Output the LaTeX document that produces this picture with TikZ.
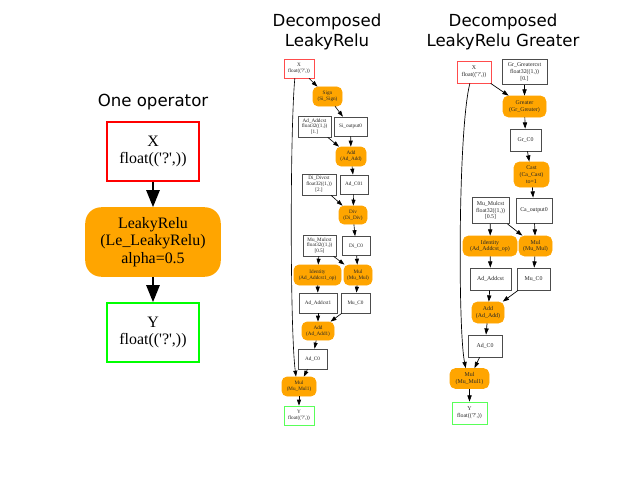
\documentclass[tikz,border=0pt]{standalone}
\usepackage{fontspec}
\setmainfont{Liberation Serif}
\newfontfamily\titlefont{DejaVu Sans}
\usetikzlibrary{arrows.meta}
\definecolor{gvorange}{HTML}{FFA500}
\definecolor{gvred}{HTML}{FF0000}
\definecolor{gvgreen}{HTML}{00FF00}
\newcommand\sq{\textquotesingle}
\newcommand\fq{float((\sq?\sq,))}
\tikzset{
  wh/.style 2 args={minimum width=#1*0.7227pt, minimum height=#2*0.7227pt},
  ttl/.style={font=\titlefont\fontsize{12}{14.45}\selectfont, align=center, inner sep=0pt},
  lnode/.style={inner sep=0pt, align=center, font=\fontsize{11.5}{12.5}\selectfont, line width=1.1pt},
  mnode/.style={inner sep=0pt, align=center, font=\fontsize{3.75}{4.3}\selectfont, line width=0.5pt, text=black!85},
  rnode/.style={inner sep=0pt, align=center, font=\fontsize{4.25}{4.9}\selectfont, line width=0.55pt, text=black!85},
  tbox/.style={draw=black},
  inbox/.style={draw=gvred},
  outbox/.style={draw=gvgreen},
  stbox/.style={draw=black!70},
  sinbox/.style={draw=gvred!70},
  soutbox/.style={draw=gvgreen!65},
  lop/.style={fill=gvorange, draw=gvorange, rounded corners=11pt},
  mop/.style={fill=gvorange, draw=gvorange, rounded corners=3.6pt},
  rop/.style={fill=gvorange, draw=gvorange, rounded corners=4pt},
  larr/.style={-{Triangle[length=12.3pt,width=9.4pt]}, line width=1.8pt},
  marr/.style={-{Triangle[length=4.3pt,width=2.9pt]}, line width=0.45pt},
  rarr/.style={-{Triangle[length=4.5pt,width=3.1pt]}, line width=0.5pt},
}
\begin{document}
\begin{tikzpicture}[x=0.7227pt,y=-0.7227pt]
\fill[white] (0,0) rectangle (640,480);
\useasboundingbox (0,0) rectangle (640,480);

% ---------- titles ----------
\node[ttl, anchor=base] (t1) at (153,106.5) {One operator};
\node[ttl] (t2) at (327,31.6) {Decomposed\\LeakyRelu};
\node[ttl] (t3) at (503,31.6) {Decomposed\\LeakyRelu Greater};

% ---------- left graph ----------
\node[lnode, inbox, wh={92}{59}] (lX) at (153,151.5) {X\\\fq};
\node[lnode, lop, wh={134}{68}] (lLR) at (153,242) {LeakyRelu\\(Le\_LeakyRelu)\\alpha=0.5};
\node[lnode, outbox, wh={92}{59}] (lY) at (153,332.5) {Y\\\fq};
\draw[larr] (lX) -- (lLR);
\draw[larr] (lLR) -- (lY);

% ---------- middle graph ----------
\node[mnode, sinbox, wh={30}{19}] (mX) at (299,68.5) {X\\\fq};
\node[mnode, mop, wh={29}{19}] (mSign) at (327.5,96.5) {Sign\\(Si\_Sign)};
\node[mnode, stbox, wh={33}{21}] (mAdc) at (314.5,126.5) {Ad\_Addcst\\float32((1,))\\{}[1.]};
\node[mnode, stbox, wh={33}{19}] (mSio) at (350.5,126.5) {Si\_output0};
\node[mnode, mop, wh={30}{19}] (mAdd) at (351,156.5) {Add\\(Ad\_Add)};
\node[mnode, stbox, wh={34}{21}] (mDic) at (319,184.5) {Di\_Divcst\\float32((1,))\\{}[2.]};
\node[mnode, stbox, wh={28}{19}] (mAdC01) at (354,184.5) {Ad\_C01};
\node[mnode, mop, wh={28}{18}] (mDiv) at (353,215) {Div\\(Di\_Div)};
\node[mnode, stbox, wh={33}{21}] (mMuc) at (319.5,245.5) {Mu\_Mulcst\\float32((1,))\\{}[0.5]};
\node[mnode, stbox, wh={28}{19}] (mDiC0) at (356,246) {Di\_C0};
\node[mnode, mop, wh={47}{20}] (mId) at (317.5,275) {Identity\\(Ad\_Addcst1\_op)};
\node[mnode, mop, wh={28}{20}] (mMul) at (358,275) {Mul\\(Mu\_Mul)};
\node[mnode, stbox, wh={38}{20}] (mAdc1) at (318,303) {Ad\_Addcst1};
\node[mnode, stbox, wh={29}{20}] (mMuC0) at (355.5,303) {Mu\_C0};
\node[mnode, mop, wh={32}{18}] (mAdd1) at (318,331) {Add\\(Ad\_Add1)};
\node[mnode, stbox, wh={29}{20}] (mAdC0) at (312.5,359) {Ad\_C0};
\node[mnode, mop, wh={34}{19}] (mMul1) at (299,386.5) {Mul\\(Mu\_Mul1)};
\node[mnode, soutbox, wh={30}{19}] (mY) at (299,415.5) {Y\\\fq};

\draw[marr] (mX) -- (mSign);
\draw[marr] (mSign) -- (mSio);
\draw[marr] (mAdc) -- (mAdd);
\draw[marr] (mSio) -- (mAdd);
\draw[marr] (mAdd) -- (mAdC01);
\draw[marr] (mDic) -- (mDiv);
\draw[marr] (mAdC01) -- (mDiv);
\draw[marr] (mDiv) -- (mDiC0);
\draw[marr] (mMuc) -- (mId);
\draw[marr] (mMuc) -- (mMul);
\draw[marr] (mDiC0) -- (mMul);
\draw[marr] (mId) -- (mAdc1);
\draw[marr] (mMul) -- (mMuC0);
\draw[marr] (mAdc1) -- (mAdd1);
\draw[marr] (mMuC0) -- (mAdd1);
\draw[marr] (mAdd1) -- (mAdC0);
\draw[marr] (mAdC0) -- (mMul1);
\draw[marr] (mX.247) .. controls (290,130) and (290,330) .. (mMul1.107);
\draw[marr] (mMul1) -- (mY);

% ---------- right graph ----------
\node[rnode, sinbox, wh={34}{22}] (rX) at (474,72) {X\\\fq};
\node[rnode, stbox, wh={45}{25}] (rGc) at (524.5,72) {Gr\_Greatercst\\float32((1,))\\{}[0.]};
\node[rnode, rop, wh={43}{21}] (rGr) at (524.5,106.5) {Greater\\(Gr\_Greater)};
\node[rnode, stbox, wh={31}{22}] (rGrC0) at (525.5,140) {Gr\_C0};
\node[rnode, rop, wh={35}{25}] (rCast) at (531.5,174.5) {Cast\\(Ca\_Cast)\\to=1};
\node[rnode, stbox, wh={37}{26}] (rMuc) at (490.5,210.5) {Mu\_Mulcst\\float32((1,))\\{}[0.5]};
\node[rnode, stbox, wh={36}{25}] (rCao) at (534,210.5) {Ca\_output0};
\node[rnode, rop, wh={54}{20}] (rId) at (490,246) {Identity\\(Ad\_Addcst\_op)};
\node[rnode, rop, wh={33}{20}] (rMul) at (535.5,246) {Mul\\(Mu\_Mul)};
\node[rnode, stbox, wh={41}{22}] (rAdc) at (490.5,279) {Ad\_Addcst};
\node[rnode, stbox, wh={33}{22}] (rMuC0) at (533.5,279) {Mu\_C0};
\node[rnode, rop, wh={32}{21}] (rAdd) at (488,312.5) {Add\\(Ad\_Add)};
\node[rnode, stbox, wh={34}{22}] (rAdC0) at (485,346) {Ad\_C0};
\node[rnode, rop, wh={39}{20}] (rMul1) at (469.5,378.5) {Mul\\(Mu\_Mul1)};
\node[rnode, soutbox, wh={35}{22}] (rY) at (469.5,413) {Y\\\fq};

\draw[rarr] (rX) -- (rGr);
\draw[rarr] (rGc) -- (rGr);
\draw[rarr] (rGr) -- (rGrC0);
\draw[rarr] (rGrC0) -- (rCast);
\draw[rarr] (rCast) -- (rCao);
\draw[rarr] (rCao) -- (rMul);
\draw[rarr] (rMuc) -- (rId);
\draw[rarr] (rMuc) -- (rMul);
\draw[rarr] (rId) -- (rAdc);
\draw[rarr] (rMul) -- (rMuC0);
\draw[rarr] (rAdc) -- (rAdd);
\draw[rarr] (rMuC0) -- (rAdd);
\draw[rarr] (rAdd) -- (rAdC0);
\draw[rarr] (rAdC0) -- (rMul1);
\draw[rarr] (rX.250) .. controls (458,130) and (458,330) .. (rMul1.110);
\draw[rarr] (rMul1) -- (rY);
\end{tikzpicture}
\end{document}
